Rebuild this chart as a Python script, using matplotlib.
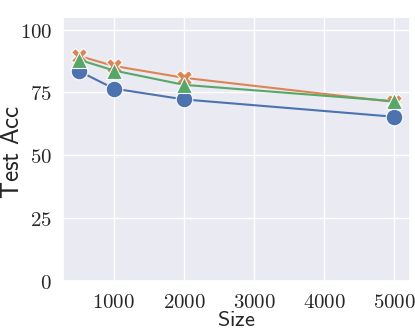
import matplotlib
matplotlib.use("Agg")
import matplotlib.pyplot as plt
import seaborn as sns
from matplotlib.ticker import FuncFormatter

sns.set_theme(style="darkgrid")
plt.rcParams['mathtext.fontset'] = 'cm'

sizes = [500, 1000, 2000, 5000]
acc_blue = [83.5, 76.5, 72.2, 65.3]
acc_orange = [89.5, 85.5, 80.8, 71.2]
acc_green = [88.0, 83.7, 78.0, 71.5]

pal = sns.color_palette("deep")

fig = plt.figure(figsize=(4.15, 3.32), dpi=100)
ax = fig.add_axes([0.152, 0.1536, 0.836, 0.7954])

ax.plot(sizes, acc_blue, color=pal[0], lw=1.5, marker='o', ms=12, mec='w', mew=0.8)
ax.plot(sizes, acc_orange, color=pal[1], lw=1.5, marker='X', ms=11, mec='w', mew=0.8)
ax.plot(sizes, acc_green, color=pal[2], lw=1.5, marker='^', ms=12, mec='w', mew=0.8)

ax.set_ylim(0, 105)
ax.set_yticks([0, 25, 50, 75, 100])
ax.set_xticks([1000, 2000, 3000, 4000, 5000])
fmt = FuncFormatter(lambda v, p: r'$%d$' % v)
ax.xaxis.set_major_formatter(fmt)
ax.yaxis.set_major_formatter(fmt)
ax.tick_params(labelsize=15, pad=2)
ax.set_xlabel(r'$\mathsf{Size}$', fontsize=16)
ax.set_ylabel(r'$\mathsf{Test\ Acc}$', fontsize=18)
ax.xaxis.set_label_coords(0.5, -0.11)
ax.yaxis.set_label_coords(-0.112, 0.487)

fig.savefig("out.png", dpi=100)
